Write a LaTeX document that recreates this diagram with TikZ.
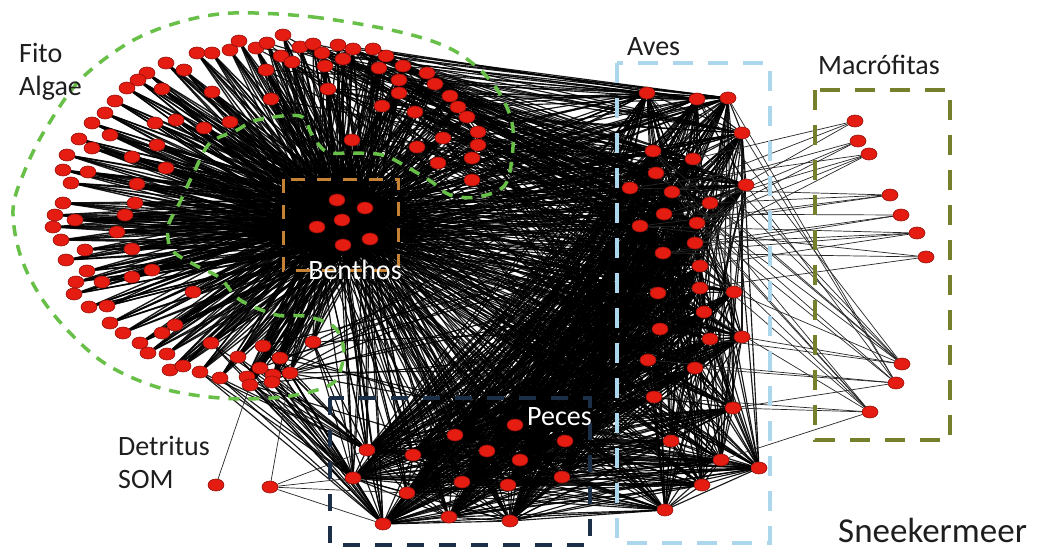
\documentclass[tikz,border=0pt]{standalone}
\usepackage{fontspec}
\setmainfont{Carlito}
\usetikzlibrary{shapes.geometric}
\pgfdeclarelayer{paper}
\pgfdeclarelayer{edges}
\pgfdeclarelayer{boxes}
\pgfsetlayers{paper,edges,boxes,main}
\definecolor{nodered}{RGB}{228,28,18}
\definecolor{nodeedge}{RGB}{150,15,8}
\definecolor{greenD}{RGB}{104,192,72}
\definecolor{blueD}{RGB}{172,214,236}
\definecolor{oliveD}{RGB}{118,128,44}
\definecolor{navyD}{RGB}{28,46,72}
\definecolor{orangeD}{RGB}{198,130,52}
\definecolor{labelgray}{RGB}{30,30,30}
\begin{document}
\begin{tikzpicture}[x=1pt,y=-1pt,
  nd/.style={ellipse,fill=nodered,draw=nodeedge,line width=0.6pt,minimum width=16pt,minimum height=12pt,inner sep=0pt},
  edge/.style={draw=black,line width=1.15pt,opacity=0.9},
  fanedge/.style={draw=black,line width=1.4pt,opacity=0.9},
  thinedge/.style={draw=black!85,line width=0.7pt},
  lbl/.style={font=\fontsize{28}{32}\selectfont,text=labelgray,anchor=base west,inner sep=0pt},
  wlbl/.style={font=\fontsize{28}{32}\selectfont,text=white,inner sep=0pt},
  grpbox/.style={line width=4.5pt,dash pattern=on 20pt off 15pt}
]
\useasboundingbox (0,0) rectangle (1060,550);
\begin{pgfonlayer}{paper}
\fill[white] (0,0) rectangle (1060,550);
\end{pgfonlayer}

% ---------- nodes ----------
\def\algaelist{197/53,212/53,230/50,239/41,256/48,267/43,283/35,281/56,292/62,300/47,313/44,322/53,338/45,353/49,343/59,325/66,373/49,386/56,379/68,403/66,399/80,399/93,427/73,435/84,450/96,458/107,467/117,478/132,478/145,472/158,472/180,443/138,417/147,438/163,415/112,382/106,328/89,266/70,271/99,352/140,166/63,184/70,147/73,138/80,127/88,162/89,212/92,115/101,105/113,92/123,155/123,176/120,204/128,230/122,110/135,79/139,92/148,157/145,67/155,132/157,63/170,88/172,166/168,71/183,137/184,63/203,135/203,55/215,75/220,125/215,53/227,117/232,61/240,85/250,132/249,66/260,87/271,152/270,76/282,102/282,132/277,74/294,193/292,89/307,107/306,110/323,123/333,162/333,175/325,140/343,148/353,167/354,211/343,263/346,313/342,170/370,183/366,200/372,220/378,238/357,280/358,247/377,260/368,273/375,290/373,250/385,272/382}
\foreach \x/\y [count=\i] in \algaelist {\node[nd] (a\i) at (\x,\y) {};}

\foreach \x/\y [count=\i] in {337/200,365/208,342/220,317/227,370/239,343/245}
  {\node[nd] (b\i) at (\x,\y) {};}

\foreach \x/\y [count=\i] in {647/93,697/99,728/98,742/133,653/151,693/159,656/173,630/188,672/192,746/185,710/203,664/214,640/226,697/223,695/243,663/253,700/266,658/293,700/288,734/292,704/312,660/329,710/339,742/337,648/360,695/368,654/397,733/408,671/441,721/460,759/468,702/485,665/510}
  {\node[nd] (v\i) at (\x,\y) {};}

\foreach \x/\y [count=\i] in {367/450,353/478,413/455,455/435,487/451,515/425,520/460,565/441,462/482,508/485,562/477,407/493,383/524,449/517,510/521}
  {\node[nd] (p\i) at (\x,\y) {};}

\foreach \x/\y [count=\i] in {855/121,858/141,869/154,890/195,901/215,917/233,926/257,902/364,896/383,870/412}
  {\node[nd] (m\i) at (\x,\y) {};}

\node[nd] (d1) at (216,485) {};
\node[nd] (d2) at (270,487) {};

% ---------- labels ----------
\node[lbl] (fito) at (19,62) {Fito};
\node[lbl] (algae) at (19,95) {Algae};
\node[lbl] (aves) at (627,55) {Aves};
\node[lbl] (macro) at (818,74) {Macrófitas};
\node[lbl] (detritus) at (118,455) {Detritus};
\node[lbl] (som) at (118,488) {SOM};
\node[wlbl,anchor=base] (benthos) at (355,279) {Benthos};
\node[wlbl,anchor=base west] (peces) at (527,425) {Peces};
\node[lbl,font=\fontsize{35}{40}\selectfont] (sneek) at (838,542) {Sneekermeer};

% ---------- group outlines ----------
\begin{pgfonlayer}{boxes}
\draw[greenD,line width=3.5pt,dash pattern=on 11pt off 9pt]
  plot[smooth cycle,tension=0.55] coordinates {
  (233,13) (313,17) (400,32) (453,50) (490,80) (510,115) (513,147) (505,185)
  (477,197) (450,195) (432,182) (407,167) (383,155) (353,153) (327,152) (312,135)
  (300,116) (257,120) (237,130) (210,143) (195,170) (180,202) (168,227) (172,250)
  (195,265) (220,278) (240,300) (277,315) (305,316) (333,326) (343,345) (342,365)
  (330,385) (283,397) (220,398) (157,387) (100,360) (50,310) (22,260) (13,210)
  (25,170) (45,130) (80,80) (130,42) (180,22)};
\draw[orangeD,line width=3pt,dash pattern=on 14pt off 12pt] (283,179) rectangle (398,270);
\draw[blueD,grpbox] (617,63) rectangle (770,543);
\draw[oliveD,grpbox] (815,90) rectangle (950,440);
\draw[navyD,grpbox,dash pattern=on 17pt off 15pt] (330,398) rectangle (590,545);
\end{pgfonlayer}

% ---------- connectors ----------
\begin{pgfonlayer}{edges}
\foreach \x/\y [count=\i] in \algaelist {
  \foreach \k in {1,...,6}{\draw[fanedge] (a\i) -- (b\k);}
  \ifnum\x>249
    \foreach \s in {0,16}{\pgfmathtruncatemacro{\t}{mod(\i*7+\s,33)+1}\draw[edge] (a\i) -- (v\t);}
  \fi
  \ifnum\x>299 \ifnum\y<200
    \foreach \s in {0,4,8,12}{\pgfmathtruncatemacro{\t}{mod(\i+\s,16)+1}\draw[edge] (a\i) -- (v\t);}
  \fi\fi
  \ifnum\y>339 \ifnum\x>199
    \foreach \t in {1,2,13}{\draw[edge] (a\i) -- (p\t);}
  \fi\fi
}
\foreach \k in {1,...,6}{
  \foreach \j in {1,...,33}{\draw[edge] (b\k) -- (v\j);}
  \foreach \j in {1,...,15}{\draw[edge] (b\k) -- (p\j);}
}
\foreach \i in {1,...,33}{
  \foreach \s in {1,2,3,5,6,8,10,13}{\pgfmathtruncatemacro{\t}{mod(\i+\s-1,33)+1}\draw[edge] (v\i) -- (v\t);}
}
\foreach \j in {1,...,15}{
  \foreach \t in {1,...,33}{\draw[edge] (p\j) -- (v\t);}
}
\foreach \i in {1,...,14}{
  \pgfmathtruncatemacro{\ii}{\i+1}
  \foreach \j in {\ii,...,15}{\draw[edge] (p\i) -- (p\j);}
}
\foreach \t in {9,11,6}{\draw[thinedge] (m1) -- (v\t);}
\foreach \t in {11,14,9}{\draw[thinedge] (m2) -- (v\t);}
\foreach \t in {12,14,15,8}{\draw[thinedge] (m3) -- (v\t);}
\foreach \t in {8,13,14,11}{\draw[thinedge] (m4) -- (v\t);}
\foreach \t in {12,16,15}{\draw[thinedge] (m5) -- (v\t);}
\foreach \t in {13,16,17,15}{\draw[thinedge] (m6) -- (v\t);}
\foreach \t in {16,13,19}{\draw[thinedge] (m7) -- (v\t);}
\foreach \t in {1,2,5,6,9,11,24,23,20}{\draw[thinedge] (m8) -- (v\t);}
\foreach \t in {3,4,7,10,14,26,25,28}{\draw[thinedge] (m9) -- (v\t);}
\foreach \t in {5,9,14,15,17,27,28,30,21}{\draw[thinedge] (m10) -- (v\t);}
\draw[thinedge] (d1) -- (a106);
\draw[thinedge] (d2) -- (a105);
\foreach \t in {1,2,12,13}{\draw[thinedge] (d2) -- (p\t);}
\end{pgfonlayer}
\end{tikzpicture}
\end{document}
